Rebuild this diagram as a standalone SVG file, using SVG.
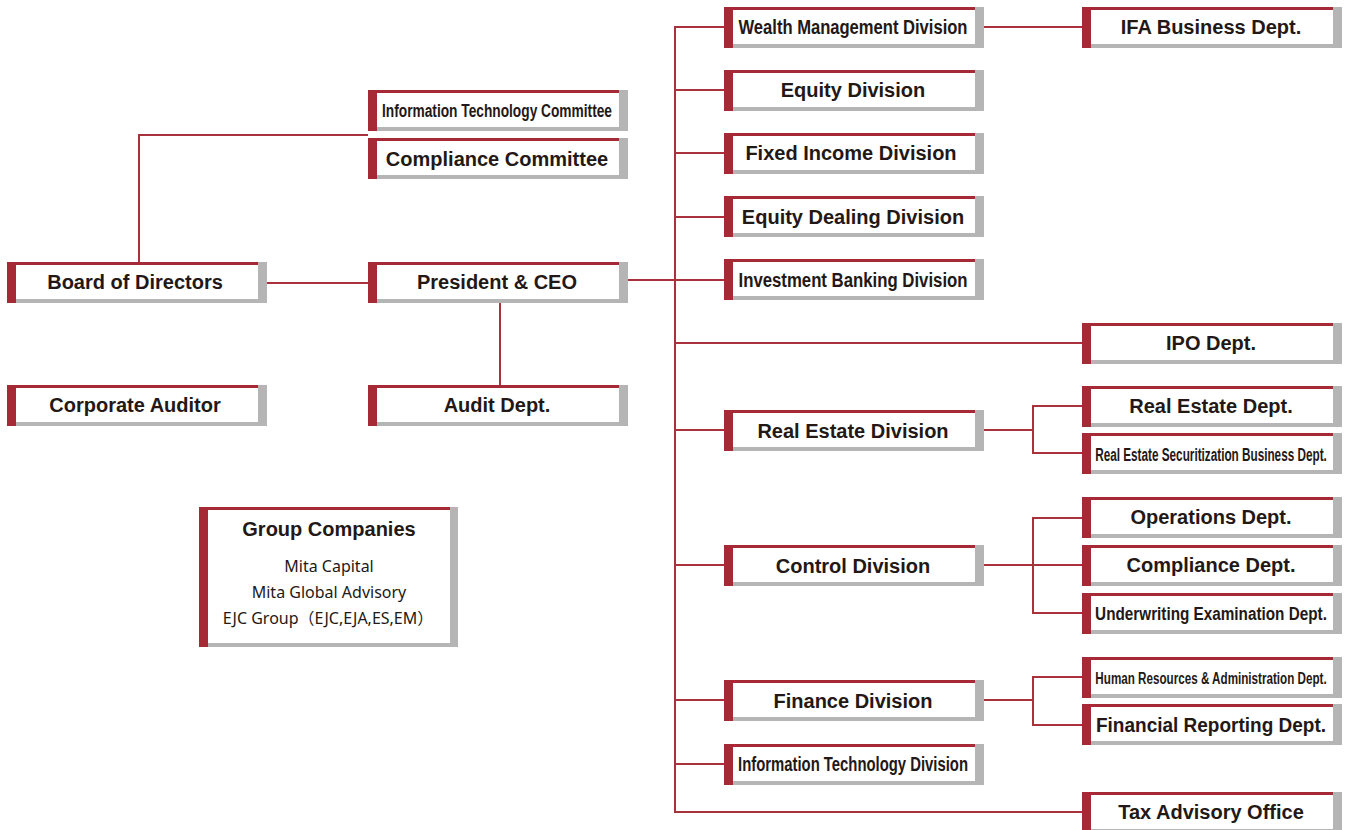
<svg xmlns="http://www.w3.org/2000/svg" xmlns:xlink="http://www.w3.org/1999/xlink" width="1346" height="830" viewBox="0 0 1346 830">
<style>
.r{fill:#a62a35}.g{fill:#b5b5b5}.w{fill:#fff}
.t{font-family:"Liberation Sans",Arial,sans-serif;font-weight:bold;font-size:20px;fill:#231815;text-anchor:middle}
.s{font-family:"Noto Sans","Noto Sans CJK JP",sans-serif;font-size:16px;fill:#231815;text-anchor:middle}
.ln{fill:none;stroke:#a8313c;stroke-width:2}
</style>
<defs>
<g id="box">
<rect class="g" x="0" y="0" width="260" height="41"/>
<rect class="r" x="0" y="0" width="251" height="3"/>
<rect class="r" x="0" y="0" width="9" height="41"/>
<rect class="w" x="9" y="3" width="242" height="34"/>
</g>
</defs>
<rect width="1346" height="830" fill="#fff"/>
<g id="connectors" class="ln">
<path d="M267 283H368"/>
<path d="M139 262V135H368"/>
<path d="M500 303V385"/>
<path d="M628 280H724"/>
<path d="M724 27H675V812H1082"/>
<path d="M984 27H1082"/>
<path d="M675 90H724M675 153H724M675 217H724M675 430H724M675 565H724M675 700H724M675 764H724"/>
<path d="M675 343H1082"/>
<path d="M984 430H1033M1082 406H1033V453H1082"/>
<path d="M984 565H1082M1082 518H1033V613H1082"/>
<path d="M984 700H1033M1082 677H1033V725H1082"/>
</g>
<g id="n-itc"><use xlink:href="#box" x="368" y="90"/><text class="t" style="font-size:18px" x="497" y="117" textLength="230" lengthAdjust="spacingAndGlyphs">Information Technology Committee</text></g>
<g id="n-cc"><use xlink:href="#box" x="368" y="138"/><text class="t" x="497" y="166">Compliance Committee</text></g>
<g id="n-board"><use xlink:href="#box" x="7" y="262"/><text class="t" x="135" y="289">Board of Directors</text></g>
<g id="n-pres"><use xlink:href="#box" x="368" y="262"/><text class="t" x="497" y="289">President &amp; CEO</text></g>
<g id="n-ca"><use xlink:href="#box" x="7" y="385"/><text class="t" x="135" y="412">Corporate Auditor</text></g>
<g id="n-audit"><use xlink:href="#box" x="368" y="385"/><text class="t" x="497" y="412">Audit Dept.</text></g>
<g id="n-group">
<rect class="g" x="199" y="507" width="259" height="140"/>
<rect class="r" x="199" y="507" width="251" height="3"/>
<rect class="r" x="199" y="507" width="9" height="140"/>
<rect class="w" x="208" y="510" width="242" height="133"/>
<text class="t" x="329" y="536">Group Companies</text>
<text class="s" x="329" y="572">Mita Capital</text>
<text class="s" x="329" y="598">Mita Global Advisory</text>
<text class="s" x="328" y="624">EJC Group（EJC,EJA,ES,EM）</text>
</g>
<g id="n-wealth"><use xlink:href="#box" x="724" y="7"/><text class="t" x="853" y="34" textLength="229" lengthAdjust="spacingAndGlyphs">Wealth Management Division</text></g>
<g id="n-equity"><use xlink:href="#box" x="724" y="70"/><text class="t" x="853" y="97">Equity Division</text></g>
<g id="n-fixed"><use xlink:href="#box" x="724" y="133"/><text class="t" x="851" y="160">Fixed Income Division</text></g>
<g id="n-eqdeal"><use xlink:href="#box" x="724" y="196"/><text class="t" x="853" y="224">Equity Dealing Division</text></g>
<g id="n-ib"><use xlink:href="#box" x="724" y="259"/><text class="t" x="853" y="287" textLength="229" lengthAdjust="spacingAndGlyphs">Investment Banking Division</text></g>
<g id="n-red"><use xlink:href="#box" x="724" y="410"/><text class="t" x="853" y="438">Real Estate Division</text></g>
<g id="n-ctrl"><use xlink:href="#box" x="724" y="545"/><text class="t" x="853" y="573">Control Division</text></g>
<g id="n-fin"><use xlink:href="#box" x="724" y="680"/><text class="t" x="853" y="708">Finance Division</text></g>
<g id="n-itd"><use xlink:href="#box" x="724" y="744"/><text class="t" x="853" y="771" textLength="230" lengthAdjust="spacingAndGlyphs">Information Technology Division</text></g>
<g id="n-ifa"><use xlink:href="#box" x="1082" y="7"/><text class="t" x="1211" y="34">IFA Business Dept.</text></g>
<g id="n-ipo"><use xlink:href="#box" x="1082" y="323"/><text class="t" x="1211" y="350">IPO Dept.</text></g>
<g id="n-red2"><use xlink:href="#box" x="1082" y="386"/><text class="t" x="1211" y="413">Real Estate Dept.</text></g>
<g id="n-resec"><use xlink:href="#box" x="1082" y="433"/><text class="t" style="font-size:18px" transform="translate(1211 461) scale(0.653 1)">Real Estate Securitization Business Dept.</text></g>
<g id="n-ops"><use xlink:href="#box" x="1082" y="497"/><text class="t" x="1211" y="524">Operations Dept.</text></g>
<g id="n-compd"><use xlink:href="#box" x="1082" y="545"/><text class="t" x="1211" y="572">Compliance Dept.</text></g>
<g id="n-uw"><use xlink:href="#box" x="1082" y="593"/><text class="t" style="font-size:19px" transform="translate(1211 620) scale(0.805 1)">Underwriting Examination Dept.</text></g>
<g id="n-hr"><use xlink:href="#box" x="1082" y="657"/><text class="t" style="font-size:17px" transform="translate(1211 684) scale(0.686 1)">Human Resources &amp; Administration Dept.</text></g>
<g id="n-fr"><use xlink:href="#box" x="1082" y="704"/><text class="t" x="1211" y="732" textLength="230" lengthAdjust="spacingAndGlyphs">Financial Reporting Dept.</text></g>
<g id="n-tax"><use xlink:href="#box" x="1082" y="792"/><text class="t" x="1211" y="819">Tax Advisory Office</text></g>
</svg>
